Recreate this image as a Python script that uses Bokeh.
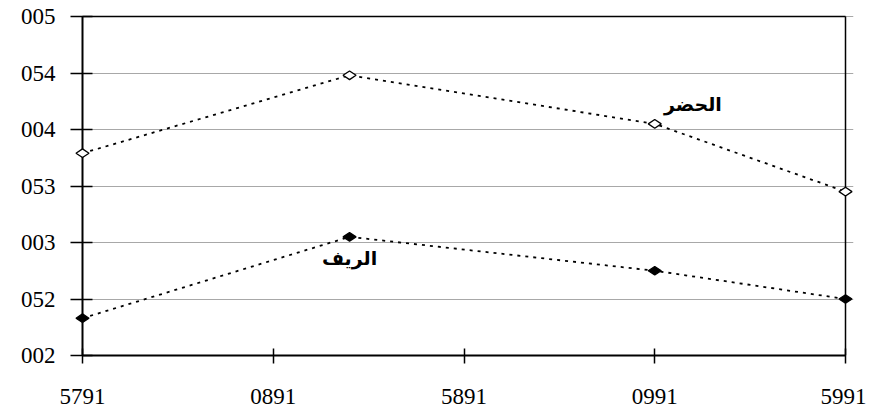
from bokeh.plotting import figure
from bokeh.models import FixedTicker, Label
from bokeh.embed import file_html
from bokeh.resources import INLINE
import numpy as np

# Data
years = [1975, 1982, 1990, 1995]
urban = [379, 448, 405, 345]   # الحضر
rural = [233, 305, 275, 250]   # الريف

x_ticks = [1975, 1980, 1985, 1990, 1995]
x_tick_labels = ["5791", "0891", "5891", "0991", "5991"]
y_ticks = [200, 250, 300, 350, 400, 450, 500]
y_tick_labels = ["002", "052", "003", "053", "004", "054", "005"]

urban_label = "الحضر"
rural_label = "الريف"

x0, x1 = x_ticks[0], x_ticks[-1]
y0, y1 = y_ticks[0], y_ticks[-1]
xpad = 8 * (x1 - x0) / 763   # 8 px of room so edge markers are not clipped
ypad = 2 * (y1 - y0) / 339   # 2 px so the top frame line is not clipped

p = figure(width=866, height=415, x_range=(x0 - xpad, x1 + xpad), y_range=(y0, y1 + ypad),
           output_backend="svg", toolbar_location=None,
           min_border_left=74, min_border_right=13, min_border_top=14, min_border_bottom=60)

p.background_fill_color = "white"
p.border_fill_color = "white"
p.outline_line_color = None

p.xgrid.visible = False
p.ygrid.grid_line_color = "#a8a8a8"
p.ygrid.grid_line_width = 1
p.ygrid.ticker = FixedTicker(ticks=y_ticks)
p.ygrid.bounds = (x0, x1)

tick_font = "Liberation Serif"
for ax in (p.xaxis[0], p.yaxis[0]):
    ax.axis_line_color = "black"
    ax.axis_line_width = 2
    ax.major_tick_line_color = "black"
    ax.major_tick_line_width = 1.5
    ax.minor_tick_line_color = None
    ax.major_label_text_font = tick_font
    ax.major_label_text_font_size = "23px"
    ax.major_label_text_color = "black"

p.xaxis[0].ticker = FixedTicker(ticks=x_ticks)
p.xaxis[0].major_label_overrides = {t: l for t, l in zip(x_ticks, x_tick_labels)}
p.xaxis[0].major_tick_in = 7
p.xaxis[0].major_tick_out = 8
p.xaxis[0].major_label_standoff = 25
p.xaxis[0].bounds = (x0, x1)

p.yaxis[0].ticker = FixedTicker(ticks=y_ticks)
p.yaxis[0].major_label_overrides = {t: l for t, l in zip(y_ticks, y_tick_labels)}
p.yaxis[0].axis_line_color = None
p.yaxis[0].major_tick_in = 18
p.yaxis[0].major_tick_out = 4
p.yaxis[0].major_label_standoff = 15

# Vertical axis line at the first year, plus top and right frame lines
p.segment(x0=[x0, x0, x1], y0=[y0, y1, y0], x1=[x0, x1, x1], y1=[y1, y1, y1],
          line_color="black", line_width=[2, 1.5, 1.5])

# Lines
p.line(years, urban, line_color="black", line_width=1.8, line_dash="3 5")
p.line(years, rural, line_color="black", line_width=1.8, line_dash="3 5")

# Markers
p.scatter(years, urban, marker="diamond", size=13, angle=np.pi / 2,
          fill_color="white", line_color="black", line_width=1.3, level="overlay")
p.scatter(years, rural, marker="diamond", size=13, angle=np.pi / 2,
          fill_color="black", line_color="black", line_width=1.3, level="overlay")

# Series labels
p.add_layout(Label(x=1991.0, y=423, text=urban_label, text_align="center",
                   text_baseline="middle", text_font="DejaVu Sans",
                   text_font_style="bold", text_font_size="19px", text_color="black"))
p.add_layout(Label(x=1982.0, y=286, text=rural_label, text_align="center",
                   text_baseline="middle", text_font="DejaVu Sans",
                   text_font_style="bold", text_font_size="19px", text_color="black"))

open("out.html", "w").write(file_html(p, INLINE))
